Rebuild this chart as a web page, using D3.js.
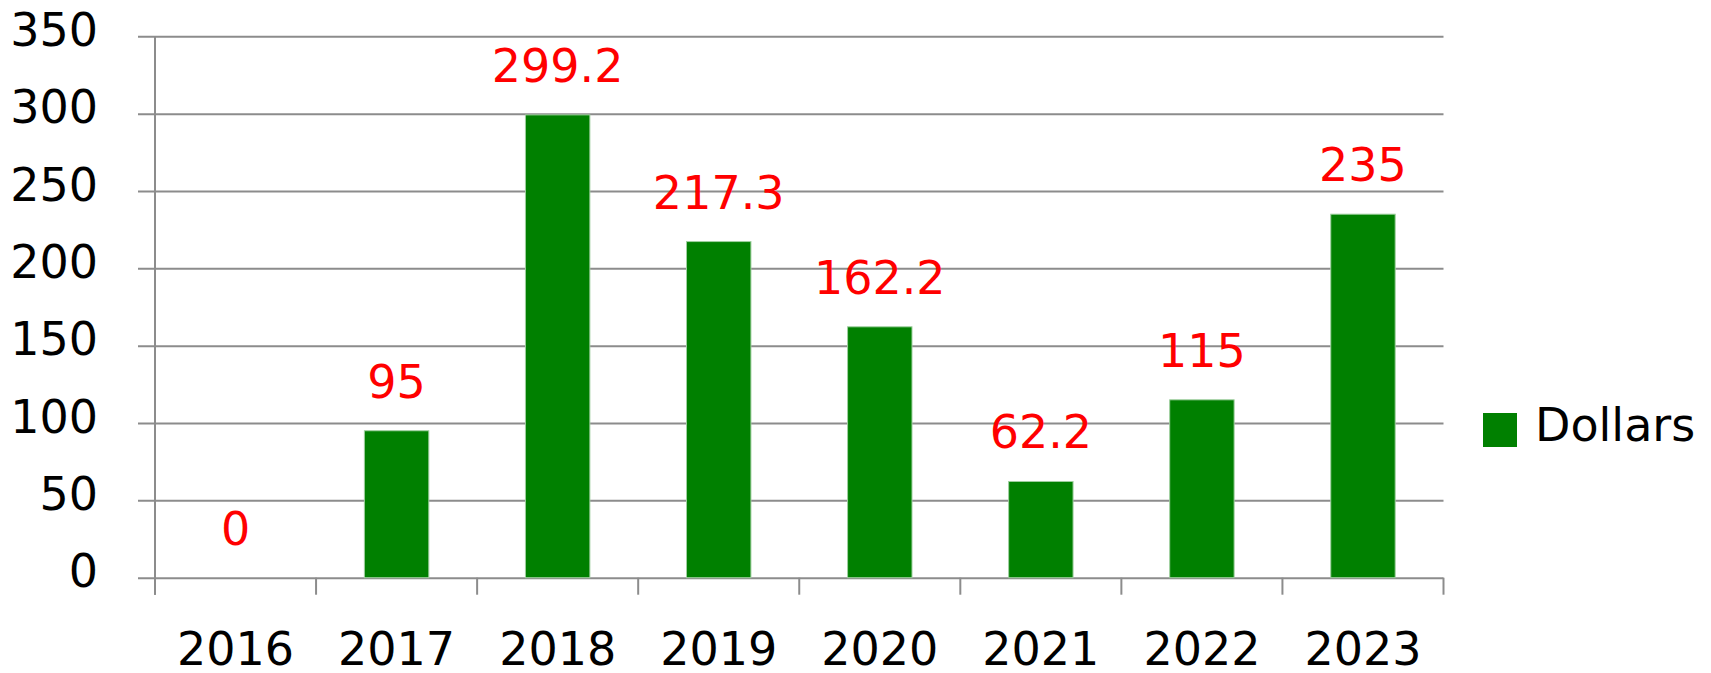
<!DOCTYPE html>
<html>
<head>
<meta charset="utf-8">
<script src="https://cdn.jsdelivr.net/npm/d3@7"></script>
<style>
  body { margin: 0; background: #fff; }
  text { font-family: "DejaVu Sans", sans-serif; }
</style>
</head>
<body>
<div id="chart"></div>
<script>
// chart data
const years = ["2016", "2017", "2018", "2019", "2020", "2021", "2022", "2023"];
const dollars = [0, 95, 299.2, 217.3, 162.2, 62.2, 115, 235];
const yTicks = [0, 50, 100, 150, 200, 250, 300, 350];
const seriesName = "Dollars";

const width = 1711;
const height = 673;
const plotLeft = 155, plotRight = 1443.5, plotTop = 36.3, plotBottom = 577.7;
const fontSize = 46;

const svg = d3.select("#chart")
  .append("svg")
  .attr("width", width)
  .attr("height", height);

const x = d3.scaleBand()
  .domain(years)
  .range([plotLeft, plotRight])
  .padding(0);

const y = d3.scaleLinear()
  .domain([0, 350])
  .range([plotBottom, plotTop]);

// horizontal gridlines + y labels (axis sits on the right edge so ticks run left)
const yAxis = svg.append("g")
  .attr("transform", `translate(${plotRight}, 0)`)
  .call(d3.axisLeft(y).tickValues(yTicks).tickSize(plotRight - 138).tickPadding(40));
yAxis.select(".domain").remove();
yAxis.selectAll(".tick line").attr("stroke", "#8c8c8c").attr("stroke-width", 2);
yAxis.selectAll(".tick text")
  .attr("fill", "#000")
  .attr("font-size", fontSize)
  .attr("font-family", "DejaVu Sans")
  .attr("dy", "0.2em");

// vertical axis line
svg.append("line")
  .attr("x1", plotLeft).attr("x2", plotLeft)
  .attr("y1", y(350)).attr("y2", plotBottom + 17)
  .attr("stroke", "#8c8c8c").attr("stroke-width", 2);

// category boundary ticks
const bounds = years.map(d => x(d)).concat([x.range()[1]]);
svg.append("g").selectAll("line")
  .data(bounds)
  .enter().append("line")
  .attr("x1", d => d).attr("x2", d => d)
  .attr("y1", plotBottom).attr("y2", plotBottom + 17)
  .attr("stroke", "#8c8c8c").attr("stroke-width", 2);

// x labels
const xAxis = svg.append("g")
  .attr("transform", `translate(0, ${plotBottom})`)
  .call(d3.axisBottom(x).tickSize(0).tickPadding(55));
xAxis.select(".domain").remove();
xAxis.selectAll(".tick text")
  .attr("fill", "#000")
  .attr("font-size", fontSize)
  .attr("font-family", "DejaVu Sans");

// bars
svg.append("g").selectAll("rect")
  .data(dollars)
  .enter().append("rect")
  .attr("x", (d, i) => x(years[i]) + x.bandwidth() * 0.3)
  .attr("y", d => y(d))
  .attr("width", x.bandwidth() * 0.4)
  .attr("height", d => plotBottom - y(d))
  .attr("fill", "#008000")
  .attr("stroke", "#9fcf9f")
  .attr("stroke-width", d => d > 0 ? 1 : 0);

// value labels
svg.append("g").selectAll("text")
  .data(dollars)
  .enter().append("text")
  .attr("x", (d, i) => x(years[i]) + x.bandwidth() / 2)
  .attr("y", d => y(d) - 33)
  .attr("text-anchor", "middle")
  .attr("font-size", fontSize)
  .attr("fill", "#ff0000")
  .text(d => d);

// legend
const legend = svg.append("g");
legend.append("rect")
  .attr("x", 1483).attr("y", 413)
  .attr("width", 34).attr("height", 34)
  .attr("fill", "#008000");
legend.append("text")
  .attr("x", 1535).attr("y", 441)
  .attr("font-size", fontSize)
  .attr("fill", "#000")
  .text(seriesName);
</script>
</body>
</html>
